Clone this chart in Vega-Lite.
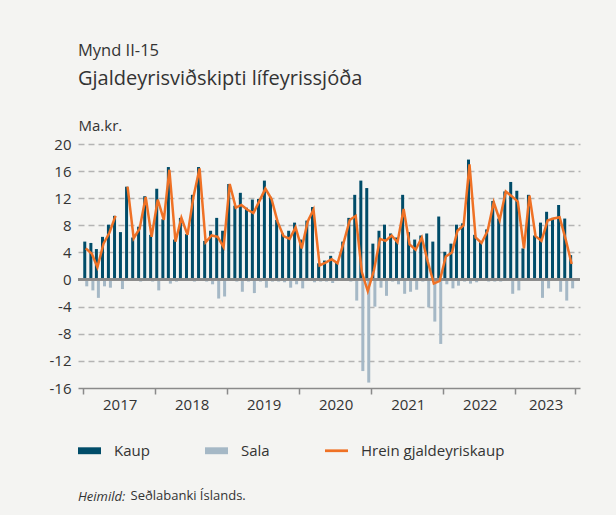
{
  "$schema": "https://vega.github.io/schema/vega-lite/v6.json",
  "width": 502,
  "height": 244,
  "autosize": {"type": "none"},
  "padding": {"left": 78, "top": 144, "right": 36, "bottom": 127},
  "background": "#f4f4f2",
  "config": {
    "font": "Open Sans",
    "view": {"stroke": null},
    "axisY": {
      "domain": false,
      "ticks": false,
      "labelPadding": 7,
      "labelFontSize": 15,
      "labelColor": "#333333",
      "labelOverlap": false,
      "grid": true,
      "gridColor": "#b4b4b4",
      "gridDash": [6, 4],
      "gridWidth": 1.5,
      "titleAngle": 0,
      "titleX": 0,
      "titleY": -14,
      "titleAlign": "left",
      "titleBaseline": "alphabetic",
      "titleFontSize": 15,
      "titleFontWeight": "normal",
      "titleColor": "#333333"
    },
    "axisX": {
      "grid": false,
      "labelFontSize": 15,
      "labelColor": "#333333",
      "labelPadding": 3,
      "tickSize": 6,
      "tickColor": "#8a8a8a",
      "tickWidth": 1.5,
      "domainColor": "#8a8a8a",
      "domainWidth": 1.5,
      "labelFlush": false,
      "labelOverlap": false,
      "labelBound": false,
      "titleX": 52,
      "titleY": 111,
      "titleAlign": "left",
      "titleBaseline": "alphabetic",
      "titleFontSize": 13,
      "titleFontWeight": "normal",
      "titleColor": "#333333"
    }
  },
  "title": {
    "text": "Mynd II-15",
    "subtitle": "Gjaldeyrisviðskipti lífeyrissjóða",
    "anchor": "start",
    "frame": "group",
    "fontSize": 16.5,
    "fontWeight": "normal",
    "color": "#333333",
    "subtitleFontSize": 20,
    "subtitleColor": "#333333",
    "subtitlePadding": 10,
    "offset": 29
  },
  "data": {
    "values": [
      {"d":"2017-01-15","Kaup":5.6,"Sala":-1.0,"Hrein":4.6},
      {"d":"2017-02-15","Kaup":5.4,"Sala":-1.6,"Hrein":3.8},
      {"d":"2017-03-15","Kaup":4.5,"Sala":-2.7,"Hrein":1.8},
      {"d":"2017-04-15","Kaup":6.3,"Sala":-1.0,"Hrein":5.3},
      {"d":"2017-05-15","Kaup":8.1,"Sala":-1.2,"Hrein":6.9},
      {"d":"2017-06-15","Kaup":9.4,"Sala":0,"Hrein":9.4},
      {"d":"2017-07-15","Kaup":7.0,"Sala":-1.4,"Hrein":null},
      {"d":"2017-08-15","Kaup":13.7,"Sala":0,"Hrein":13.7},
      {"d":"2017-09-15","Kaup":6.2,"Sala":-0.1,"Hrein":6.1},
      {"d":"2017-10-15","Kaup":7.8,"Sala":-0.3,"Hrein":7.5},
      {"d":"2017-11-15","Kaup":12.3,"Sala":0,"Hrein":12.2},
      {"d":"2017-12-15","Kaup":6.6,"Sala":-0.3,"Hrein":6.3},
      {"d":"2018-01-15","Kaup":13.4,"Sala":-1.6,"Hrein":11.8},
      {"d":"2018-02-15","Kaup":8.9,"Sala":0,"Hrein":8.8},
      {"d":"2018-03-15","Kaup":16.6,"Sala":-0.6,"Hrein":16.2},
      {"d":"2018-04-15","Kaup":5.9,"Sala":-0.3,"Hrein":5.6},
      {"d":"2018-05-15","Kaup":9.1,"Sala":0,"Hrein":9.1},
      {"d":"2018-06-15","Kaup":6.7,"Sala":0,"Hrein":6.6},
      {"d":"2018-07-15","Kaup":12.5,"Sala":-0.3,"Hrein":12.2},
      {"d":"2018-08-15","Kaup":16.6,"Sala":-0.1,"Hrein":16.4},
      {"d":"2018-09-15","Kaup":5.7,"Sala":-0.3,"Hrein":5.5},
      {"d":"2018-10-15","Kaup":7.2,"Sala":-0.7,"Hrein":6.5},
      {"d":"2018-11-15","Kaup":9.1,"Sala":-2.8,"Hrein":6.3},
      {"d":"2018-12-15","Kaup":7.2,"Sala":-2.5,"Hrein":4.8},
      {"d":"2019-01-15","Kaup":14.1,"Sala":0,"Hrein":14.1},
      {"d":"2019-02-15","Kaup":10.9,"Sala":-0.3,"Hrein":10.6},
      {"d":"2019-03-15","Kaup":12.8,"Sala":-1.8,"Hrein":11.0},
      {"d":"2019-04-15","Kaup":10.6,"Sala":-0.3,"Hrein":10.3},
      {"d":"2019-05-15","Kaup":11.8,"Sala":-2.0,"Hrein":9.8},
      {"d":"2019-06-15","Kaup":11.9,"Sala":-0.3,"Hrein":11.6},
      {"d":"2019-07-15","Kaup":14.6,"Sala":-1.2,"Hrein":13.4},
      {"d":"2019-08-15","Kaup":12.2,"Sala":-0.3,"Hrein":11.9},
      {"d":"2019-09-15","Kaup":8.8,"Sala":-0.3,"Hrein":8.5},
      {"d":"2019-10-15","Kaup":6.8,"Sala":-0.4,"Hrein":6.4},
      {"d":"2019-11-15","Kaup":7.2,"Sala":-1.2,"Hrein":6.0},
      {"d":"2019-12-15","Kaup":8.4,"Sala":-0.7,"Hrein":7.7},
      {"d":"2020-01-15","Kaup":5.9,"Sala":-1.3,"Hrein":4.6},
      {"d":"2020-02-15","Kaup":8.7,"Sala":-0.1,"Hrein":8.6},
      {"d":"2020-03-15","Kaup":10.7,"Sala":-0.4,"Hrein":10.3},
      {"d":"2020-04-15","Kaup":2.4,"Sala":-0.3,"Hrein":2.1},
      {"d":"2020-05-15","Kaup":2.8,"Sala":-0.3,"Hrein":2.5},
      {"d":"2020-06-15","Kaup":3.5,"Sala":-0.5,"Hrein":3.0},
      {"d":"2020-07-15","Kaup":2.5,"Sala":-0.1,"Hrein":2.4},
      {"d":"2020-08-15","Kaup":5.6,"Sala":-0.1,"Hrein":5.5},
      {"d":"2020-09-15","Kaup":9.1,"Sala":-0.3,"Hrein":8.8},
      {"d":"2020-10-15","Kaup":12.5,"Sala":-3.1,"Hrein":9.4},
      {"d":"2020-11-15","Kaup":14.6,"Sala":-13.5,"Hrein":1.1},
      {"d":"2020-12-15","Kaup":13.5,"Sala":-15.2,"Hrein":-1.7},
      {"d":"2021-01-15","Kaup":5.3,"Sala":-4.0,"Hrein":1.3},
      {"d":"2021-02-15","Kaup":7.2,"Sala":-1.2,"Hrein":6.0},
      {"d":"2021-03-15","Kaup":8.1,"Sala":-2.4,"Hrein":5.7},
      {"d":"2021-04-15","Kaup":6.8,"Sala":-0.3,"Hrein":6.5},
      {"d":"2021-05-15","Kaup":6.2,"Sala":-0.7,"Hrein":5.5},
      {"d":"2021-06-15","Kaup":12.5,"Sala":-2.1,"Hrein":10.4},
      {"d":"2021-07-15","Kaup":7.0,"Sala":-1.8,"Hrein":5.2},
      {"d":"2021-08-15","Kaup":5.9,"Sala":-1.5,"Hrein":4.4},
      {"d":"2021-09-15","Kaup":6.5,"Sala":-0.3,"Hrein":6.2},
      {"d":"2021-10-15","Kaup":6.8,"Sala":-4.1,"Hrein":2.7},
      {"d":"2021-11-15","Kaup":5.6,"Sala":-6.2,"Hrein":-0.6},
      {"d":"2021-12-15","Kaup":9.3,"Sala":-9.5,"Hrein":-0.2},
      {"d":"2022-01-15","Kaup":4.1,"Sala":-0.7,"Hrein":3.4},
      {"d":"2022-02-15","Kaup":5.3,"Sala":-1.3,"Hrein":4.0},
      {"d":"2022-03-15","Kaup":8.1,"Sala":-0.9,"Hrein":7.2},
      {"d":"2022-04-15","Kaup":8.3,"Sala":-0.3,"Hrein":8.0},
      {"d":"2022-05-15","Kaup":17.7,"Sala":-0.6,"Hrein":17.0},
      {"d":"2022-06-15","Kaup":6.6,"Sala":-0.4,"Hrein":6.2},
      {"d":"2022-07-15","Kaup":5.6,"Sala":-0.2,"Hrein":5.4},
      {"d":"2022-08-15","Kaup":7.4,"Sala":-0.3,"Hrein":7.2},
      {"d":"2022-09-15","Kaup":11.6,"Sala":-0.3,"Hrein":11.4},
      {"d":"2022-10-15","Kaup":9.0,"Sala":-0.3,"Hrein":8.8},
      {"d":"2022-11-15","Kaup":13.0,"Sala":0,"Hrein":13.0},
      {"d":"2022-12-15","Kaup":14.4,"Sala":-2.1,"Hrein":12.3},
      {"d":"2023-01-15","Kaup":13.1,"Sala":-1.6,"Hrein":11.5},
      {"d":"2023-02-15","Kaup":4.6,"Sala":0,"Hrein":4.6},
      {"d":"2023-03-15","Kaup":12.5,"Sala":0,"Hrein":12.4},
      {"d":"2023-04-15","Kaup":6.5,"Sala":-0.1,"Hrein":6.4},
      {"d":"2023-05-15","Kaup":8.4,"Sala":-2.7,"Hrein":5.7},
      {"d":"2023-06-15","Kaup":10.0,"Sala":-1.3,"Hrein":8.7},
      {"d":"2023-07-15","Kaup":9.1,"Sala":-0.1,"Hrein":9.0},
      {"d":"2023-08-15","Kaup":11.0,"Sala":-1.8,"Hrein":9.2},
      {"d":"2023-09-15","Kaup":9.0,"Sala":-3.1,"Hrein":5.9},
      {"d":"2023-10-15","Kaup":3.6,"Sala":-1.3,"Hrein":2.3}
    ]
  },
  "layer": [
    {
      "mark": {"type": "bar", "width": 3, "xOffset": -1},
      "encoding": {
        "x": {
          "field": "d",
          "type": "temporal",
          "scale": {
            "type": "utc",
            "domain": [
              {"year": 2017, "month": 1, "date": 1, "utc": true},
              {"year": 2023, "month": 11, "date": 1, "utc": true}
            ]
          },
          "axis": {
            "title": "Seðlabanki Íslands.",
            "values": [
              {"year": 2017, "month": 1, "date": 1, "utc": true},
              {"year": 2018, "month": 1, "date": 1, "utc": true},
              {"year": 2019, "month": 1, "date": 1, "utc": true},
              {"year": 2020, "month": 1, "date": 1, "utc": true},
              {"year": 2021, "month": 1, "date": 1, "utc": true},
              {"year": 2022, "month": 1, "date": 1, "utc": true},
              {"year": 2023, "month": 1, "date": 1, "utc": true},
              {"year": 2023, "month": 11, "date": 1, "utc": true}
            ],
            "labelExpr": "utcmonth(datum.value) == 0 ? utcFormat(datum.value, '%Y') : ''",
            "labelAlign": "center",
            "labelOffset": {"condition": {"test": "utcyear(datum.value) == 2023", "value": 30.5}, "value": 36.7}
          }
        },
        "y": {
          "field": "Kaup",
          "type": "quantitative",
          "scale": {"domain": [-16, 20], "nice": false, "zero": false},
          "axis": {
            "title": "Ma.kr.",
            "values": [-16, -12, -8, -4, 0, 4, 8, 12, 16, 20],
            "labelExpr": "datum.value < 0 ? '-' + abs(datum.value) : '' + datum.value",
            "gridOpacity": {"condition": {"test": "datum.value == 0 || datum.value == -16", "value": 0}, "value": 1}
          }
        },
        "color": {
          "datum": "Kaup",
          "scale": {
            "domain": ["Kaup", "Sala", "Hrein gjaldeyriskaup"],
            "range": ["#004c69", "#a5b8c6", "#ef7125"]
          },
          "legend": {
            "orient": "none",
            "legendX": 0,
            "legendY": 295,
            "direction": "horizontal",
            "padding": 0,
            "title": "Heimild:",
            "titleOrient": "bottom",
            "titleAnchor": "start",
            "titleFontStyle": "italic",
            "titleFontWeight": "normal",
            "titleFontSize": 13,
            "titleColor": "#333333",
            "titlePadding": 32,
            "labelFontSize": 15,
            "labelColor": "#333333",
            "labelOffset": 13,
            "columnPadding": 55,
            "symbolSize": 529,
            "encode": {
              "symbols": {
                "update": {
                  "shape": {"signal": "datum.value === 'Hrein gjaldeyriskaup' ? 'M-1,-0.12H1V0.12H-1Z' : 'M-1,-0.3H1V0.3H-1Z'"},
                  "fill": {"scale": "color", "field": "value"},
                  "fillOpacity": {"value": 1},
                  "strokeWidth": {"value": 0}
                }
              }
            }
          }
        }
      }
    },
    {
      "mark": {"type": "bar", "width": 3, "xOffset": 1},
      "encoding": {
        "x": {"field": "d", "type": "temporal"},
        "y": {
          "field": "Sala",
          "type": "quantitative",
          "axis": {
            "title": "Ma.kr.",
            "values": [-16, -12, -8, -4, 0, 4, 8, 12, 16, 20],
            "labelExpr": "datum.value < 0 ? '-' + abs(datum.value) : '' + datum.value",
            "gridOpacity": {"condition": {"test": "datum.value == 0 || datum.value == -16", "value": 0}, "value": 1}
          }
        },
        "color": {"datum": "Sala"}
      }
    },
    {
      "mark": {"type": "rule", "color": "#8a8a8a", "strokeWidth": 1.5},
      "encoding": {
        "y": {
          "datum": 0,
          "type": "quantitative",
          "axis": {
            "title": "Ma.kr.",
            "values": [-16, -12, -8, -4, 0, 4, 8, 12, 16, 20],
            "labelExpr": "datum.value < 0 ? '-' + abs(datum.value) : '' + datum.value",
            "gridOpacity": {"condition": {"test": "datum.value == 0 || datum.value == -16", "value": 0}, "value": 1}
          }
        }
      }
    },
    {
      "mark": {"type": "line", "strokeWidth": 2.5, "invalid": "break-paths-show-domains"},
      "encoding": {
        "x": {"field": "d", "type": "temporal"},
        "y": {
          "field": "Hrein",
          "type": "quantitative",
          "axis": {
            "title": "Ma.kr.",
            "values": [-16, -12, -8, -4, 0, 4, 8, 12, 16, 20],
            "labelExpr": "datum.value < 0 ? '-' + abs(datum.value) : '' + datum.value",
            "gridOpacity": {"condition": {"test": "datum.value == 0 || datum.value == -16", "value": 0}, "value": 1}
          }
        },
        "color": {"datum": "Hrein gjaldeyriskaup"}
      }
    }
  ]
}
